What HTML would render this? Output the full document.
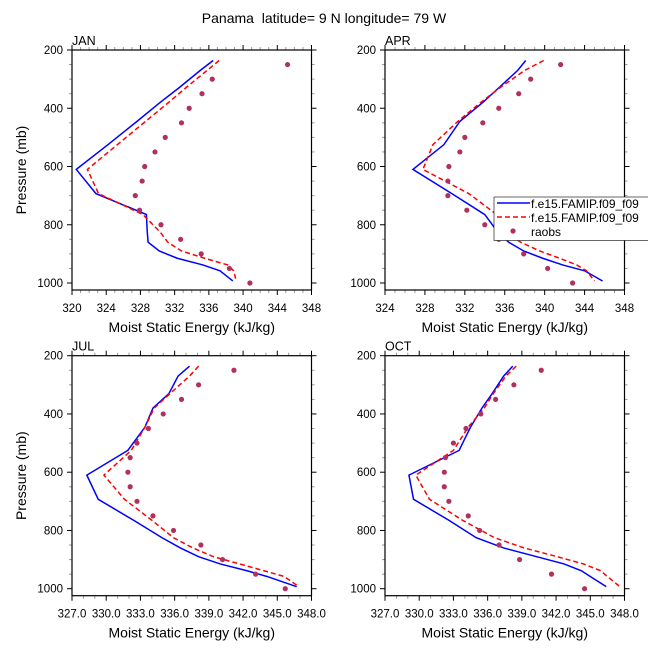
<!DOCTYPE html>
<html><head><meta charset="utf-8"><style>
body{margin:0;background:#fff}
svg{display:block;font-family:"Liberation Sans",sans-serif}
</style></head><body>
<svg id="chart" width="648" height="648" viewBox="0 0 648 648" xmlns="http://www.w3.org/2000/svg">
<rect width="648" height="648" fill="#fff"/>
<text x="324" y="23" text-anchor="middle" font-size="14" style="white-space:pre">Panama&#160; latitude= 9 N longitude= 79 W</text>
<g id="plots"></g>
<g>
<rect x="494" y="197" width="160" height="43.5" fill="#fff" stroke="#000" stroke-width="0.6"/>
<line x1="497" y1="203" x2="530" y2="203" stroke="#0000ff" stroke-width="1.5"/>
<text x="531" y="208" font-size="12">f.e15.FAMIP.f09_f09</text>
<line x1="497" y1="217" x2="530" y2="217" stroke="#ff0000" stroke-width="1.5" stroke-dasharray="5,3"/>
<text x="531" y="222" font-size="12">f.e15.FAMIP.f09_f09</text>
<circle cx="513" cy="231" r="2.6" fill="#b03060"/>
<text x="531" y="236" font-size="12">raobs</text>
</g>
</svg>
<script>
const modelP = [236,270,330,380,445,525,610,693,765,825,860,890,915,938,958,993];
const obsP = [250,300,350,400,450,500,550,600,650,700,750,800,850,900,950,1000];
const months = ["JAN","APR","JUL","OCT"];
const janBlue = [336.5,335.0,332.5,330.3,327.6,324.2,320.5,322.8,328.7,328.8,328.9,330.2,332.3,335.3,337.3,338.8];
const janRed  = [337.2,335.8,333.3,331.3,328.6,325.3,321.8,323.1,328.3,330.3,331.2,332.8,335.5,338.2,338.9,339.2];
const janObs  = [345.2,336.4,335.2,333.7,332.8,330.9,329.7,328.5,328.2,327.4,327.9,330.4,332.7,335.1,338.4,340.8];
const aprBlue = [338.1,337.3,335.4,333.8,331.5,329.9,326.8,330.7,334.0,335.3,336.4,337.9,339.8,341.8,344.0,345.8];
const aprRed  = [339.9,338.0,335.5,333.6,331.3,328.8,327.8,332.4,335.2,335.9,337.6,339.5,341.5,343.2,344.2,345.0];
const aprObs  = [341.6,338.6,337.4,335.4,333.8,332.0,331.5,330.4,330.3,330.3,332.2,334.0,335.4,337.9,340.3,342.8];
const julBlue = [337.3,336.3,335.5,334.1,333.4,331.9,328.3,329.3,332.4,334.9,336.5,338.1,340.0,342.3,344.1,346.7];
const julRed  = [338.1,337.3,335.6,334.2,333.4,332.2,329.8,331.6,334.0,335.9,337.6,339.4,341.7,343.8,345.6,346.9];
const julObs  = [341.2,338.1,336.6,335.0,333.7,332.7,332.1,331.9,332.1,332.7,334.1,335.9,338.3,340.2,343.1,345.7];
const octBlue = [338.2,337.4,336.4,335.5,334.5,333.5,329.1,329.5,332.6,335.0,337.4,340.3,342.7,344.2,345.0,346.4];
const octRed  = [338.5,337.6,336.5,335.7,334.3,333.0,329.7,330.9,333.8,336.6,339.2,342.1,344.4,345.9,346.5,347.6];
const octObs  = [340.7,338.3,336.7,335.4,334.1,333.0,332.3,332.2,332.2,332.6,334.3,335.3,337.0,338.8,341.6,344.5];
const xMin = [320,324,327,327];
const xMax = [348,348,348,348];
const xStep = [4,4,3,3];
const yTicks = [200,400,600,800,1000];

const blues=[janBlue,aprBlue,julBlue,octBlue], reds=[janRed,aprRed,julRed,octRed], obss=[janObs,aprObs,julObs,octObs];
const boxes=[[72,50],[385,50],[72,355.7],[385,355.7]];
const W=239.5,H=240,pTop=200,pBot=1024;
const NS="http://www.w3.org/2000/svg";
const root=document.getElementById('plots');
function mk(tag,attrs,parent){const e=document.createElementNS(NS,tag);for(const k in attrs)e.setAttribute(k,attrs[k]);parent.appendChild(e);return e;}
months.forEach((m,i)=>{
  const [L,T]=boxes[i];
  const xs=v=>L+(v-xMin[i])/(xMax[i]-xMin[i])*W;
  const ys=p=>T+(p-pTop)/(pBot-pTop)*H;
  const g=mk('g',{},root);
  
  
  for(let p=200;p<=1000;p+=50){
    const maj=p%200===0, len=maj?5:3, y=ys(p), c=maj?'#000':'#999';
    mk('line',{x1:L-len,y1:y,x2:L,y2:y,stroke:c,'stroke-width':1},g);
    mk('line',{x1:L+W,y1:y,x2:L+W+len,y2:y,stroke:c,'stroke-width':1},g);
  }
  for(let v=xMin[i];v<=xMax[i]+1e-6;v+=1){
    const maj=Math.abs(((v-xMin[i])%xStep[i]))<1e-6, len=maj?5:3, x=xs(v), c=maj?'#000':'#999';
    mk('line',{x1:x,y1:T+H,x2:x,y2:T+H+len,stroke:c,'stroke-width':1},g);
    mk('line',{x1:x,y1:T-len,x2:x,y2:T,stroke:c,'stroke-width':1},g);
  }
  yTicks.forEach(p=>{
    const t=mk('text',{x:L-9,y:ys(p)+4,'text-anchor':'end','font-size':11.5},g);
    
    
    t.textContent=p;
  });
  for(let v=xMin[i];v<=xMax[i]+1e-6;v+=xStep[i]){
    const t=mk('text',{x:xs(v),y:T+H+22,'text-anchor':'middle','font-size':11.5},g);
    
    
    t.textContent=i<2?v.toFixed(0):v.toFixed(1);
  }
  const ttl=mk('text',{x:L,y:T-5,'font-size':12.5},g);
  
  
  ttl.textContent=m;
  const xt=mk('text',{x:L+W/2,y:T+H+42,'text-anchor':'middle','font-size':14},g);
  
  
  xt.textContent='Moist Static Energy (kJ/kg)';
  if(i%2===0){
    const yt=mk('text',{x:0,y:0,'text-anchor':'middle','font-size':14,transform:`translate(26,${T+H/2}) rotate(-90)`},g);
    
    
    yt.textContent='Pressure (mb)';
  }
  const b=mk('polyline',{points:modelP.map((p,k)=>xs(blues[i][k])+','+ys(p)).join(' '),fill:'none',stroke:'#0000ff','stroke-width':1.5},g);
  
  
  const r=mk('polyline',{points:modelP.map((p,k)=>xs(reds[i][k])+','+ys(p)).join(' '),fill:'none',stroke:'#ff0000','stroke-width':1.5,'stroke-dasharray':'5,3'},g);
  
  
  obsP.forEach((p,k)=>{
    const c=mk('circle',{cx:xs(obss[i][k]),cy:ys(p),r:2.6,fill:'#b03060'},g);
    
    
  });
  const fr=mk('rect',{x:L,y:T,width:W,height:H,fill:'none',stroke:'#000','stroke-width':1.2},g);
  
  
});
</script>
</body></html>
